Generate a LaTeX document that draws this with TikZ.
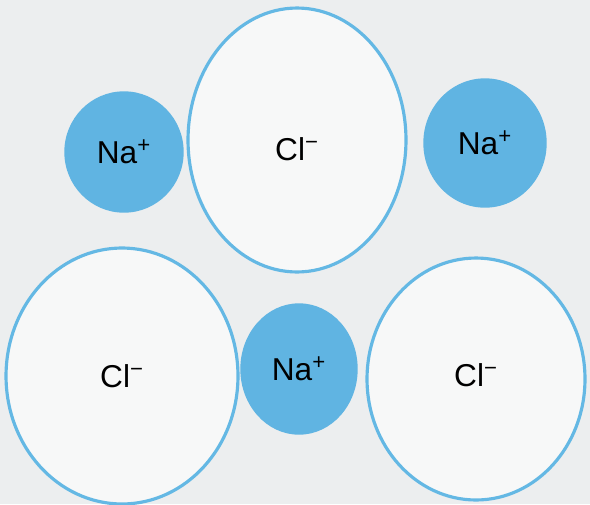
\documentclass[tikz,border=0pt]{standalone}
\usepackage{fontspec}
\setmainfont{Liberation Sans}
\usepackage{tikz}
\usetikzlibrary{shapes.geometric}
\definecolor{paper}{RGB}{236,238,239}
\definecolor{ionblue}{RGB}{96,180,226}
\definecolor{ionline}{RGB}{100,184,228}
\definecolor{clfill}{RGB}{247,248,248}

\begin{document}
\begin{tikzpicture}[x=0.02cm, y=-0.02cm, sodium/.style={ellipse, fill=ionblue, draw=ionblue, line width=0.8pt, inner sep=0pt, font=\fontsize{18}{20}\selectfont}, chloride/.style={ellipse, fill=clfill, draw=ionline, line width=1.8pt, inner sep=0pt, font=\fontsize{18}{20}\selectfont}, iontext/.style={font=\fontsize{18}{20}\selectfont, inner sep=0pt}]
\fill[paper] (0,0) rectangle (590,504);
\useasboundingbox (0,0) rectangle (590,504);
\node[sodium, minimum width=2.36cm, minimum height=2.40cm] (naA) at (124,152) {Na\textsuperscript{+}};
\node[chloride, minimum width=4.36cm, minimum height=5.28cm] (clA) at (297,140) {};
\node[sodium, minimum width=2.44cm, minimum height=2.56cm] (naB) at (485,143) {Na\textsuperscript{+}};
\node[chloride, minimum width=4.64cm, minimum height=5.12cm] (clB) at (122,376) {Cl\textsuperscript{−}};
\node[sodium, minimum width=2.32cm, minimum height=2.60cm] (naC) at (299,369) {Na\textsuperscript{+}};
\node[chloride, minimum width=4.36cm, minimum height=4.84cm] (clC) at (476,379) {};
\node[iontext] (clAtext) at ([yshift=-0.18cm]clA.center) {Cl\textsuperscript{−}};
\node[iontext] (clCtext) at ([yshift=0.08cm]clC.center) {Cl\textsuperscript{−}};
\end{tikzpicture}
\end{document}
